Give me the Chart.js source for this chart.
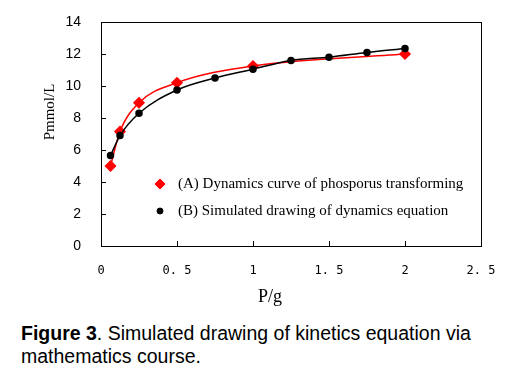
<!DOCTYPE html>
<html>
<head>
<meta charset="utf-8">
<script src="https://cdn.jsdelivr.net/npm/chart.js@4/dist/chart.umd.min.js"></script>
<style>
  body { margin: 0; background: #fff; width: 521px; height: 380px; overflow: hidden; position: relative; }
  #wrap { position: absolute; left: 0; top: 0; width: 521px; height: 310px; }
  #cap { position: absolute; left: 21px; top: 322px; font: 19.5px "Liberation Sans", Arial, sans-serif; line-height: 23px; color: #000; }
</style>
</head>
<body>
<div id="wrap"><canvas id="chart"></canvas></div>
<div id="cap"><b>Figure 3</b>. Simulated drawing of kinetics equation via<br>mathematics course.</div>
<script>
// measured curve (A)
const xA = [0.0625, 0.125, 0.25, 0.5, 1, 2];
const yA = [5.0, 7.15, 8.95, 10.2, 11.25, 12.0];
// simulated curve (B)
const xB = [0.0625, 0.125, 0.25, 0.5, 0.75, 1, 1.25, 1.5, 1.75, 2];
const yB = [5.65, 6.9, 8.3, 9.75, 10.5, 11.05, 11.6, 11.8, 12.1, 12.35];

const labelA = '(A) Dynamics curve of phosporus transforming';
const labelB = '(B) Simulated drawing of dynamics equation';
const xTitle = 'P/g';
const yTitle = 'Pmmol/L';

const xMin = 0, xMax = 2.5, xStep = 0.5;
const yMin = 0, yMax = 14, yStep = 2;

const serif = '"Liberation Serif", "Times New Roman", serif';

// box around plot, inward ticks, axis titles, legend inside the plot
const framePlugin = {
    id: 'frame',
    afterDraw(chart) {
        const ctx = chart.ctx;
        const a = chart.chartArea;
        const sx = chart.scales.x, sy = chart.scales.y;
        ctx.save();
        ctx.strokeStyle = '#000';
        ctx.lineWidth = 1;
        ctx.strokeRect(a.left + 0.5, a.top + 0.5, a.right - a.left, a.bottom - a.top);
        ctx.beginPath();
        sy.ticks.forEach(t => {
            const y = Math.round(sy.getPixelForValue(t.value)) + 0.5;
            ctx.moveTo(a.left, y); ctx.lineTo(a.left + 5, y);
        });
        sx.ticks.forEach(t => {
            const x = Math.round(sx.getPixelForValue(t.value)) + 0.5;
            ctx.moveTo(x, a.bottom); ctx.lineTo(x, a.bottom - 5);
        });
        ctx.stroke();

        // axis titles
        ctx.fillStyle = '#000';
        ctx.textAlign = 'center';
        ctx.textBaseline = 'middle';
        ctx.font = '18px ' + serif;
        ctx.fillText(xTitle, a.left + 169, a.bottom + 51);
        ctx.save();
        ctx.translate(a.left - 51, a.top + 90);
        ctx.rotate(-Math.PI / 2);
        ctx.font = '15px ' + serif;
        ctx.fillText(yTitle, 0, 0);
        ctx.restore();

        // legend
        ctx.textAlign = 'left';
        ctx.font = '15px ' + serif;
        chart.data.datasets.forEach((ds, i) => {
            const lx = a.left + 59, ly = a.top + 162 + i * 27;
            ctx.fillStyle = ds.pointBackgroundColor;
            ctx.strokeStyle = ds.pointBorderColor;
            Chart.helpers.drawPoint(ctx, {pointStyle: ds.pointStyle, radius: ds.pointRadius, borderWidth: 1}, lx, ly);
            ctx.fillStyle = '#000';
            ctx.fillText(ds.label, lx + 18, ly);
        });
        ctx.restore();
    }
};

const ctx = document.getElementById('chart').getContext('2d');

new Chart(ctx, {
    type: 'line',
    data: {
        datasets: [
            {
                label: labelA,
                data: xA.map((x, i) => ({x: x, y: yA[i]})),
                borderColor: '#ff0000',
                borderWidth: 1.5,
                pointStyle: 'rectRot',
                pointRadius: 5,
                pointBackgroundColor: '#ff0000',
                pointBorderColor: '#ff0000',
                cubicInterpolationMode: 'monotone',
                order: 1
            },
            {
                label: labelB,
                data: xB.map((x, i) => ({x: x, y: yB[i]})),
                borderColor: '#000',
                borderWidth: 1.5,
                pointStyle: 'circle',
                pointRadius: 3,
                pointBackgroundColor: '#000',
                pointBorderColor: '#000',
                cubicInterpolationMode: 'monotone',
                order: 0
            }
        ]
    },
    options: {
        responsive: true,
        maintainAspectRatio: false,
        animation: false,
        layout: { padding: { top: 22, right: 40, left: 0, bottom: 0 } },
        plugins: { legend: { display: false }, tooltip: { enabled: false } },
        scales: {
            x: {
                type: 'linear',
                min: xMin, max: xMax,
                grid: { display: false },
                border: { display: false },
                afterFit: s => { s.height = 64; },
                ticks: {
                    stepSize: xStep,
                    padding: 10,
                    color: '#000',
                    font: { family: '"DejaVu Sans Mono", monospace', size: 12 },
                    callback: v => String(v).replace('.', '. ')
                }
            },
            y: {
                min: yMin, max: yMax,
                grid: { display: false },
                border: { display: false },
                afterFit: s => { s.width = 101; },
                ticks: {
                    stepSize: yStep,
                    padding: 12,
                    color: '#000',
                    font: { family: '"Liberation Sans", Arial, sans-serif', size: 14 }
                }
            }
        }
    },
    plugins: [framePlugin]
});
</script>
</body>
</html>
